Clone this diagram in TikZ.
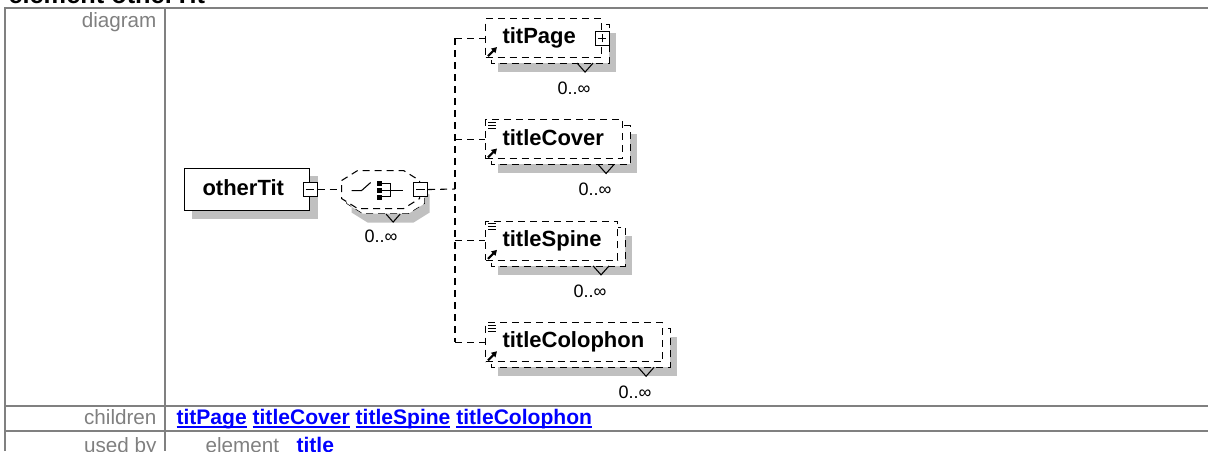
\documentclass[tikz,border=0pt]{standalone}
\usepackage{fontspec}
\setmainfont{Liberation Sans}
\usetikzlibrary{arrows.meta,positioning,backgrounds}

\definecolor{rulegray}{HTML}{808080}
\definecolor{shadegray}{HTML}{C0C0C0}
\definecolor{linkblue}{HTML}{0000FF}
\newsavebox\lnkbox
\newcommand\lnk[1]{\sbox\lnkbox{#1}\rlap{\rule[-3pt]{\wd\lnkbox}{1.2pt}}\usebox\lnkbox}
% outline of the sequence compositor, from its west point
\newcommand\seqoct{++(0,-9) -- ++(16,-10) -- ++(46,0) -- ++(16,10) -- ++(0,18) -- ++(-16,10) -- ++(-46,0) -- ++(-16,-10) -- cycle}

\begin{document}
\begin{tikzpicture}[x=0.75pt, y=-0.75pt, line width=0.8pt, >={Triangle[length=4pt,width=4.5pt]},
  dsh/.style={dash pattern=on 5.25pt off 3.75pt},
  elem/.style={draw, dsh, fill=white, anchor=north west, minimum height=29.25pt, inner xsep=12.75pt, inner ysep=0pt, text width=#1, align=left, text height=12pt, text depth=3.5pt, font=\bfseries\fontsize{16.5}{18}\selectfont},
  root/.style={draw, solid, fill=white, anchor=north west, minimum height=31.5pt, inner xsep=13.5pt, inner ysep=0pt, text width=#1, align=left, text height=12pt, text depth=3.5pt, font=\bfseries\fontsize{16.5}{18}\selectfont},
  minus/.style={draw, solid, fill=white, minimum size=10.5pt, inner sep=0pt, path picture={\draw ([xshift=2pt]path picture bounding box.west) -- ([xshift=-2pt]path picture bounding box.east);}},
  plus/.style={draw, solid, fill=white, minimum size=10.5pt, inner sep=0pt, path picture={\draw ([xshift=2pt]path picture bounding box.west) -- ([xshift=-2pt]path picture bounding box.east) ([yshift=2pt]path picture bounding box.south) -- ([yshift=-2pt]path picture bounding box.north);}},
  occ/.style={font=\fontsize{13.5}{14}\selectfont, inner sep=0pt},
  lbl/.style={text=rulegray, font=\fontsize{15.5}{17}\selectfont, inner sep=0pt, anchor=base east},
  link/.style={text=linkblue, font=\bfseries\fontsize{15.8}{17}\selectfont, inner sep=0pt, anchor=base west}]
\useasboundingbox (0,0) rectangle (1208,451);
\clip (0,0) rectangle (1208,451);

% heading, cut off at the top
\node[anchor=base west, inner sep=0pt, font=\bfseries\fontsize{19}{20}\selectfont] (head) at (8,3) {element otherTit};

% table
\draw[rulegray, line width=1.5pt] (5,451) -- (5,8) -- (1208,8) (165,8) -- (165,451) (5,406) -- (1208,406) (5,431) -- (1208,431);
\node[lbl] (dgl) at (157,27) {diagram};
\node[lbl] (chl) at (157,424) {children};
\node[lbl] (usl) at (157,452) {used by};
\node[link] (kids) at (176,424) {\lnk{titPage} \lnk{titleCover} \lnk{titleSpine} \lnk{titleColophon}};
\node[lbl, anchor=base west] (usk) at (205,452) {element};
\node[link] (usv) at (296,452) {\lnk{title}};

% element and sequence
\node[root=66.75pt] (ot) at (184,168) {otherTit};
\node[minus] (otpm) at (ot.east) {};
\node[minimum width=58.5pt, minimum height=28.5pt, inner sep=0pt, right=18pt of otpm] (seq) {};
\draw[dsh, fill=white] (seq.west) \seqoct;
\draw ([shift={(10,1)}]seq.west) -- ++(10,0) -- ++(9,-8);
\foreach \dy in {-9,-2,5} \fill ([shift={(35,\dy)}]seq.west) rectangle ++(5,5);
\draw ([shift={(40,-6)}]seq.west) -- ++(9,0) -- ++(0,13) -- ++(-9,0) ([shift={(40,1)}]seq.west) -- ++(21,0);
\node[minus] (seqpm) at (seq.east) {};
\draw ([shift={(5,5)}]seq.south) -- ++(7,8) -- ++(7,-8);
\node[occ] (seqocc) at ([shift={(0,27)}]seq.south) {0..∞};

% children
\node[elem=61.5pt] (tp) at (485,18) {titPage};
\node[elem=77.25pt, below=46pt of tp.south west, anchor=north west] (tc) {titleCover};
\node[elem=73.5pt, below=46pt of tc.south west, anchor=north west] (ts) {titleSpine};
\node[elem=107.25pt, below=46pt of ts.south west, anchor=north west] (tco) {titleColophon};
\node[plus] (tppm) at (tp.east) {};
\foreach \n in {tp,tc,ts,tco} {
  \draw ([shift={(-25,5)}]\n.south east) -- ++(8,9) -- ++(8,-9);
  \node[occ] (\n-occ) at ([shift={(-28,30)}]\n.south east) {0..∞};
  \draw[->, line width=1.6pt] ([shift={(3,-2)}]\n.south west) -- ++(9,-9);
}
\foreach \n in {tc,ts,tco} \foreach \dy in {3,6,9} \draw[line width=0.6pt] ([shift={(3,\dy)}]\n.north west) -- ++(8,0);

% connectors
\coordinate (fork) at (455,189);
\draw[dsh] (otpm.east) -- (seq.west);
\draw[dsh] (seqpm.east) -- (fork);
\draw[dsh] (fork |- tp.west) -- (fork |- tco.west);
\foreach \n in {tp,tc,ts,tco} \draw[dsh] (fork |- \n.west) -- (\n.west);

% shadows and second copies
\begin{scope}[on background layer]
  \fill[shadegray] ([shift={(8,8)}]ot.north west) rectangle ([shift={(8,8)}]ot.south east);
  \fill[shadegray] ([shift={(10,14)}]seq.west) \seqoct;
  \draw[dsh, fill=white] ([shift={(5,5)}]seq.west) \seqoct;
  \foreach \n in {tp,tc,ts,tco} {
    \fill[shadegray] ([shift={(13,15)}]\n.north west) rectangle ([shift={(14,14)}]\n.south east);
    \draw[dsh, fill=white] ([shift={(6,6)}]\n.north west) rectangle ([shift={(7,5)}]\n.south east);
  }
\end{scope}
\end{tikzpicture}
\end{document}
